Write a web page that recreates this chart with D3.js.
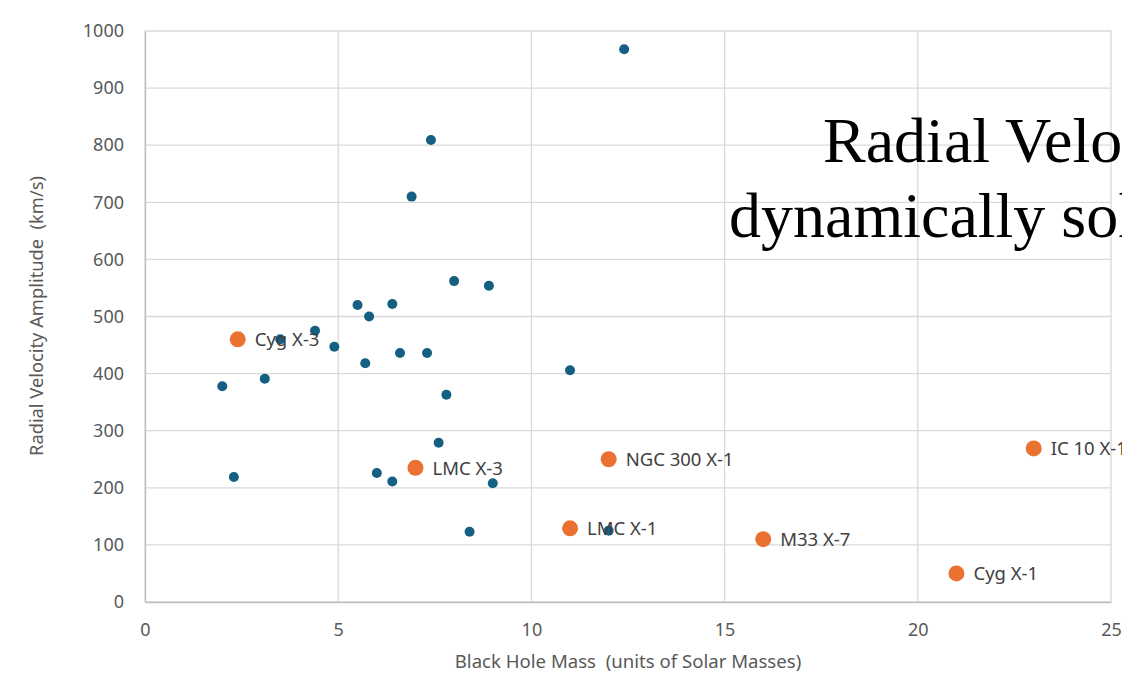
<!DOCTYPE html>
<html>
<head>
<meta charset="utf-8">
<script src="https://cdn.jsdelivr.net/npm/d3@7/dist/d3.min.js"></script>
<style>
  html, body { margin: 0; padding: 0; background: #fff; overflow: hidden; }
  svg { display: block; }
  text { white-space: pre; }
</style>
</head>
<body>
<svg id="chart" width="1122" height="673"></svg>
<script>
// Black hole X-ray binaries: mass vs. radial velocity amplitude
const bhMass     = [8.0, 8.9, 5.5, 6.4, 5.8, 4.4, 3.5, 4.9, 6.6, 7.3, 5.7, 2.0, 3.1, 7.8, 7.6, 2.3, 6.0, 6.4, 9.0, 12.4, 7.4, 6.9, 11.0, 8.4, 12.0];
const bhVelocity = [562, 554, 520, 522, 500, 475, 460, 447, 436, 436, 418, 378, 391, 363, 279, 219, 226, 211, 208, 968, 809, 710, 406, 123, 125];

// Named, dynamically solved systems
const namedSystems  = ["Cyg X-3", "LMC X-3", "NGC 300 X-1", "LMC X-1", "M33 X-7", "Cyg X-1", "IC 10 X-1"];
const namedMass     = [2.4, 7.0, 12.0, 11.0, 16.0, 21.0, 23.0];
const namedVelocity = [460, 235, 250, 129, 110, 50, 269];

const xTicks = [0, 5, 10, 15, 20, 25];
const yTicks = [0, 100, 200, 300, 400, 500, 600, 700, 800, 900, 1000];

const xTitle = "Black Hole Mass  (units of Solar Masses)";
const yTitle = "Radial Velocity Amplitude  (km/s)";
const overlayLines = ["Radial Velocity", "dynamically solved"];

const svg = d3.select("#chart");
const font = "'Noto Sans', 'Open Sans', sans-serif";

const x = d3.scaleLinear().domain([0, 25]).range([145, 1111]);
const y = d3.scaleLinear().domain([0, 1000]).range([602, 31]);

// Gridlines
const grid = svg.append("g");
grid.selectAll("line.h").data(yTicks).join("line")
  .attr("x1", x(0)).attr("x2", x(25))
  .attr("y1", d => y(d)).attr("y2", d => y(d))
  .attr("stroke", "#d9d9d9").attr("stroke-width", 1.3);
grid.selectAll("line.v").data(xTicks).join("line")
  .attr("y1", y(0)).attr("y2", y(1000))
  .attr("x1", d => x(d)).attr("x2", d => x(d))
  .attr("stroke", "#d9d9d9").attr("stroke-width", 1.3);

// Axes (lines + labels)
const xAxis = svg.append("g")
  .attr("transform", `translate(0,${y(0)})`)
  .call(d3.axisBottom(x).tickValues(xTicks).tickSize(0).tickPadding(21).tickFormat(d3.format("d")));
const yAxis = svg.append("g")
  .attr("transform", `translate(${x(0)},0)`)
  .call(d3.axisLeft(y).tickValues(yTicks).tickSize(0).tickPadding(21).tickFormat(d3.format("d")));
[xAxis, yAxis].forEach(a => {
  a.select(".domain").attr("stroke", "#bfbfbf").attr("stroke-width", 1.3);
  a.selectAll("text").attr("fill", "#595959").style("font-family", font).style("font-size", "18px");
});

// Axis titles
svg.append("text")
  .attr("x", 628).attr("y", 668)
  .attr("text-anchor", "middle")
  .attr("fill", "#595959").style("font-family", font).style("font-size", "18.6px")
  .text(xTitle);
svg.append("text")
  .attr("transform", "translate(43,316) rotate(-90)")
  .attr("text-anchor", "middle")
  .attr("fill", "#595959").style("font-family", font).style("font-size", "18.3px")
  .text(yTitle);

// Unnamed systems
svg.append("g").selectAll("circle").data(bhMass).join("circle")
  .attr("cx", d => x(d))
  .attr("cy", (d, i) => y(bhVelocity[i]))
  .attr("r", 5)
  .attr("fill", "#156082");

// Named systems with labels
const named = namedSystems.map((n, i) => ({ name: n, m: namedMass[i], v: namedVelocity[i] }));
const ng = svg.append("g");
ng.selectAll("circle").data(named).join("circle")
  .attr("cx", d => x(d.m)).attr("cy", d => y(d.v))
  .attr("r", 8).attr("fill", "#e97132");
ng.selectAll("text").data(named).join("text")
  .attr("x", d => x(d.m) + 17).attr("y", d => y(d.v) + 7)
  .attr("fill", "#404040").style("font-family", font).style("font-size", "18.5px")
  .text(d => d.name);

// Overlaid slide caption
const cap = svg.append("g").style("font-family", "'Liberation Serif', 'Times New Roman', serif")
  .style("font-size", "64px").attr("fill", "#000");
cap.append("text").attr("x", 823).attr("y", 162).text(overlayLines[0]);
cap.append("text").attr("x", 729).attr("y", 237).text(overlayLines[1]);
</script>
</body>
</html>
